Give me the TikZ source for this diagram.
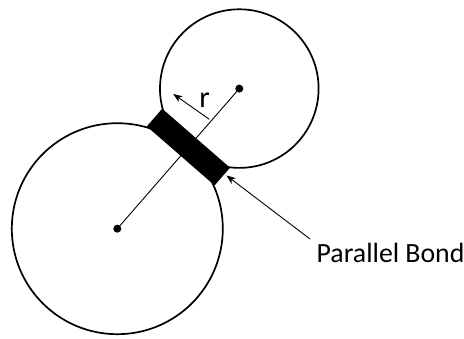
\documentclass[tikz,border=0pt]{standalone}
\usepackage{fontspec}
\setmainfont{Carlito}
\usetikzlibrary{arrows.meta}
\begin{document}
\begin{tikzpicture}[x=1pt,y=-1pt,
  ball/.style={draw=black,line width=1.7pt},
  thinline/.style={draw=black,line width=0.9pt},
  ptr/.style={thinline,-{Stealth[length=9pt,width=7pt,inset=2.5pt]}},
  dotc/.style={fill=black}]
\useasboundingbox (0,0) rectangle (464,339);
% centres
\coordinate (L) at (117.3,228.7);
\coordinate (S) at (239.3,88.6);
% balls
\draw[ball] (L) circle[radius=105.5];
\draw[ball] (S) circle[radius=79.3];
% bond corners
\coordinate (A1) at (146.8,126.4);
\coordinate (A2) at (214.6,185.4);
\coordinate (B1) at (162.2,108.7);
\coordinate (B2) at (230.0,167.7);
\fill[black] (A1) -- (B1) -- (B2) -- (A2) -- cycle;
% centre line and dots
\draw[thinline] (L) -- (S);
\fill[dotc] (L) circle[radius=4];
\fill[dotc] (S) circle[radius=4];
% radius arrow
\coordinate (rbase) at (209.3,119.3);
\coordinate (rtip) at (173.3,94);
\draw[ptr] (rbase) -- (rtip);
\node[inner sep=0pt,font=\fontsize{30}{32}\selectfont] (rlab) at (204.5,100) {r};
% label
\node[anchor=base west,inner sep=0pt,font=\fontsize{27.8}{30}\selectfont] (pb) at (316.5,263) {Parallel Bond};
\coordinate (pbstart) at (310,239);
\coordinate (pbtip) at (226.5,175.5);
\draw[ptr] (pbstart) -- (pbtip);
\end{tikzpicture}
\end{document}
